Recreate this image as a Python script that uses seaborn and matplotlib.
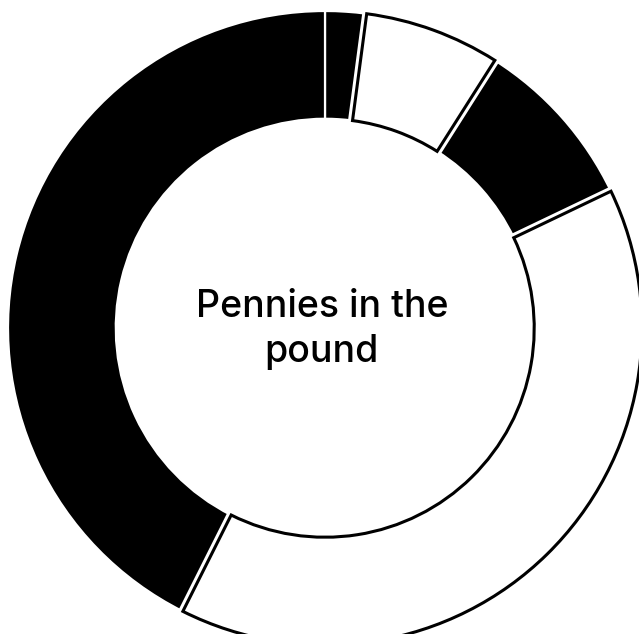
import matplotlib
matplotlib.use("Agg")
import matplotlib.pyplot as plt
import matplotlib.patheffects as pe
import seaborn as sns

sns.set_theme(style="white")
plt.rcParams["font.family"] = ["Inter", "DejaVu Sans"]

# Share of each pound, clockwise from twelve o'clock
segments = ["A", "B", "C", "D", "E"]
pennies = [2.1, 6.9, 8.9, 39.5, 42.6]
fills = ["black", "white", "black", "white", "black"]
title = "Pennies in the\npound"

fig = plt.figure(figsize=(6.39, 6.34), dpi=100)
ax = fig.add_axes([0, 0, 1, 1])

wedges, _ = ax.pie(
    pennies,
    colors=fills,
    startangle=90,
    counterclock=False,
    radius=1.0,
    wedgeprops=dict(width=0.34, edgecolor="white", linewidth=1.6),
)

# white slices get a black outline separated from neighbours by a white gap
for w, c in zip(wedges, fills):
    if c == "white":
        w.set_edgecolor("black")
        w.set_linewidth(2.2)
        w.set_zorder(3)
        w.set_path_effects([
            pe.Stroke(linewidth=6.5, foreground="white"),
            pe.Normal(),
        ])

ax.text(-0.01, -0.005, title, ha="center", va="center",
        fontsize=27, fontweight="medium", color="black", linespacing=1.33)

ax.set_xlim(-325 / 317, (639 - 325) / 317)
ax.set_ylim(-306 / 317, 328 / 317)
ax.set_axis_off()

fig.savefig("out.png", dpi=100, facecolor="white")
